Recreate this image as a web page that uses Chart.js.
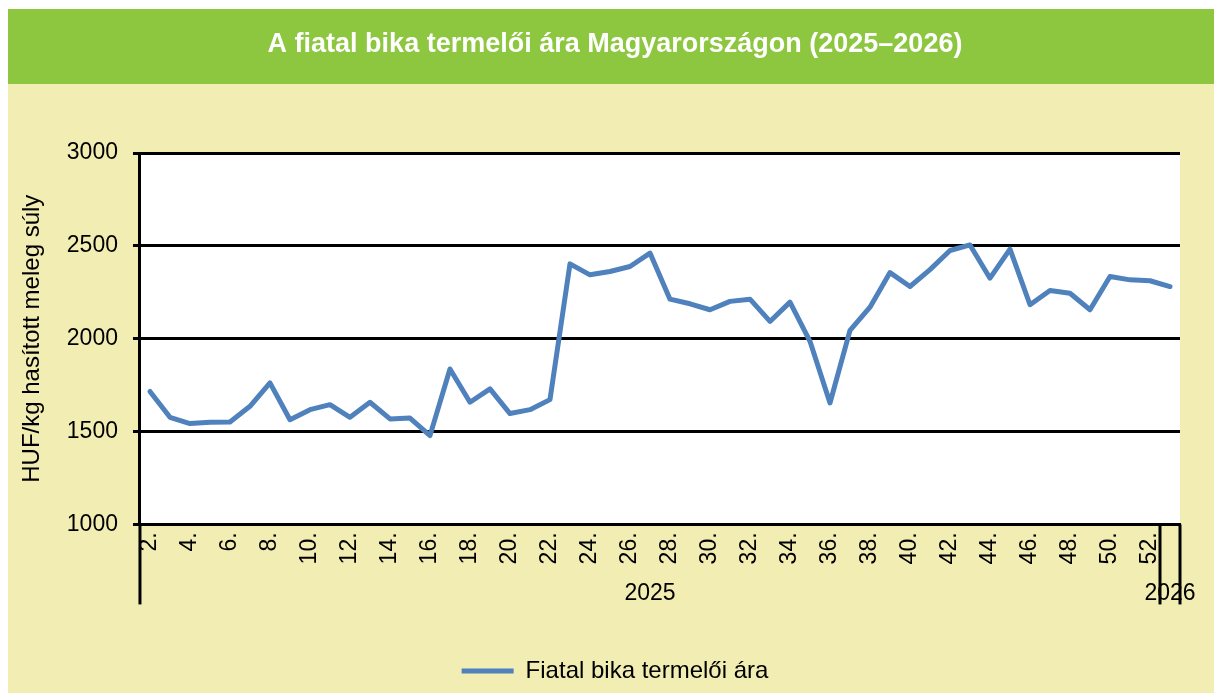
<!DOCTYPE html>
<html>
<head>
<meta charset="utf-8">
<script src="https://cdn.jsdelivr.net/npm/chart.js@4/dist/chart.umd.min.js"></script>
<style>
  html, body { margin: 0; padding: 0; background: #ffffff; }
  #wrap { position: relative; width: 1214px; height: 693px; }
</style>
</head>
<body>
<div id="wrap"><canvas id="c" width="1214" height="693"></canvas></div>
<script>
// ---- Data ----
const chartTitle = 'A fiatal bika termelői ára Magyarországon (2025–2026)';
const yAxisTitle = 'HUF/kg hasított meleg súly';
const seriesName = 'Fiatal bika termelői ára';
const weeks2025 = ['2.','3.','4.','5.','6.','7.','8.','9.','10.','11.','12.','13.','14.','15.','16.','17.','18.','19.','20.','21.','22.','23.','24.','25.','26.','27.','28.','29.','30.','31.','32.','33.','34.','35.','36.','37.','38.','39.','40.','41.','42.','43.','44.','45.','46.','47.','48.','49.','50.','51.','52.'];
const weeks2026 = ['1.'];
const years = ['2025', '2026'];
const prices = [1716,1577,1543,1550,1552,1636,1762,1564,1618,1645,1577,1658,1568,1573,1478,1837,1658,1730,1597,1618,1672,2403,2344,2362,2389,2461,2213,2188,2156,2201,2213,2093,2197,1986,1654,2045,2170,2356,2281,2372,2475,2505,2326,2482,2183,2260,2245,2156,2335,2317,2312,2281];
const yTicks = [1000, 1500, 2000, 2500, 3000];

// ---- Derived ----
const categories = weeks2025.concat(weeks2026);
const groups = [{label: years[0], start: 0, count: weeks2025.length},
                {label: years[1], start: weeks2025.length, count: weeks2026.length}];
const yearAxisLabels = categories.map(() => '');
groups.forEach(g => { yearAxisLabels[g.start + Math.floor(g.count / 2)] = g.label; });

const FONT = "'Liberation Sans', Arial, sans-serif";

const bgPlugin = {
  id: 'bg',
  beforeDraw(chart) {
    const ctx = chart.ctx;
    ctx.save();
    ctx.fillStyle = '#ffffff';
    ctx.fillRect(0, 0, chart.width, chart.height);
    ctx.fillStyle = '#F2EDB2';
    ctx.fillRect(8, 84, chart.width - 8, chart.height - 84);
    ctx.fillStyle = '#8DC63F';
    ctx.fillRect(8, 9, chart.width - 8, 75);
    const a = chart.chartArea;
    ctx.fillStyle = '#ffffff';
    ctx.fillRect(a.left, a.top, a.right - a.left, a.bottom - a.top);
    ctx.restore();
  },
  afterDraw(chart) {
    const ctx = chart.ctx;
    const a = chart.chartArea;
    const xs = chart.scales.x;
    const half = (xs.getPixelForValue(1) - xs.getPixelForValue(0)) / 2;
    ctx.save();
    ctx.strokeStyle = '#000000';
    ctx.lineWidth = 3;
    const bottom = a.bottom + 80;
    const bounds = [a.left];
    groups.forEach(g => bounds.push(xs.getPixelForValue(g.start + g.count - 1) + half));
    bounds.forEach(x => {
      ctx.beginPath();
      ctx.moveTo(x, a.bottom);
      ctx.lineTo(x, bottom);
      ctx.stroke();
    });
    ctx.restore();
  }
};

new Chart(document.getElementById('c'), {
  type: 'line',
  data: {
    labels: categories,
    datasets: [{
      label: seriesName,
      data: prices,
      borderColor: '#4F81BD',
      backgroundColor: '#4F81BD',
      borderWidth: 5,
      pointRadius: 0,
      pointHoverRadius: 0,
      tension: 0,
      borderJoinStyle: 'round',
      borderCapStyle: 'round',
      pointStyle: 'line'
    }]
  },
  options: {
    responsive: false,
    animation: false,
    events: [],
    layout: { padding: { left: 16, right: 0, top: 0, bottom: 0 } },
    plugins: {
      title: {
        display: true,
        text: chartTitle,
        color: '#ffffff',
        font: { family: FONT, size: 27, weight: 'bold' },
        padding: { top: 28.8, bottom: 91.8 }
      },
      legend: {
        display: true,
        position: 'bottom',
        labels: {
          color: '#000000',
          font: { family: FONT, size: 24 },
          usePointStyle: true,
          pointStyleWidth: 52,
          padding: 45
        }
      },
      tooltip: { enabled: false }
    },
    scales: {
      x: {
        type: 'category',
        offset: true,
        grid: { display: false },
        border: { display: true, color: '#000000', width: 3 },
        ticks: {
          autoSkip: false,
          minRotation: 90,
          maxRotation: 90,
          padding: 0,
          color: '#000000',
          font: { family: FONT, size: 23 },
          callback: function (val, i) { return i % 2 === 0 ? this.getLabelForValue(val) : ''; }
        }
      },
      x2: {
        type: 'category',
        position: 'bottom',
        labels: yearAxisLabels,
        offset: true,
        grid: { display: false },
        border: { display: false },
        ticks: {
          autoSkip: false,
          minRotation: 0,
          maxRotation: 0,
          padding: 7,
          color: '#000000',
          font: { family: FONT, size: 23 }
        }
      },
      y: {
        min: 1000,
        max: 3000,
        afterBuildTicks(scale) { scale.ticks = yTicks.map(v => ({ value: v })); },
        grid: { color: '#000000', lineWidth: 3, tickLength: 7, drawTicks: true },
        border: { display: true, color: '#000000', width: 3 },
        ticks: {
          padding: 15,
          color: '#000000',
          font: { family: FONT, size: 23 },
          callback: v => String(v)
        },
        title: {
          display: true,
          text: yAxisTitle,
          color: '#000000',
          font: { family: FONT, size: 24 },
          padding: { top: 2, bottom: 5 }
        }
      },
      yRight: {
        type: 'linear',
        position: 'right',
        display: true,
        grid: { display: false },
        border: { display: false },
        ticks: { display: false },
        title: {
          display: true,
          text: ' ',
          font: { family: FONT, size: 20, lineHeight: 1 },
          padding: { top: 3, bottom: 3 }
        }
      }
    }
  },
  plugins: [bgPlugin]
});
</script>
</body>
</html>
